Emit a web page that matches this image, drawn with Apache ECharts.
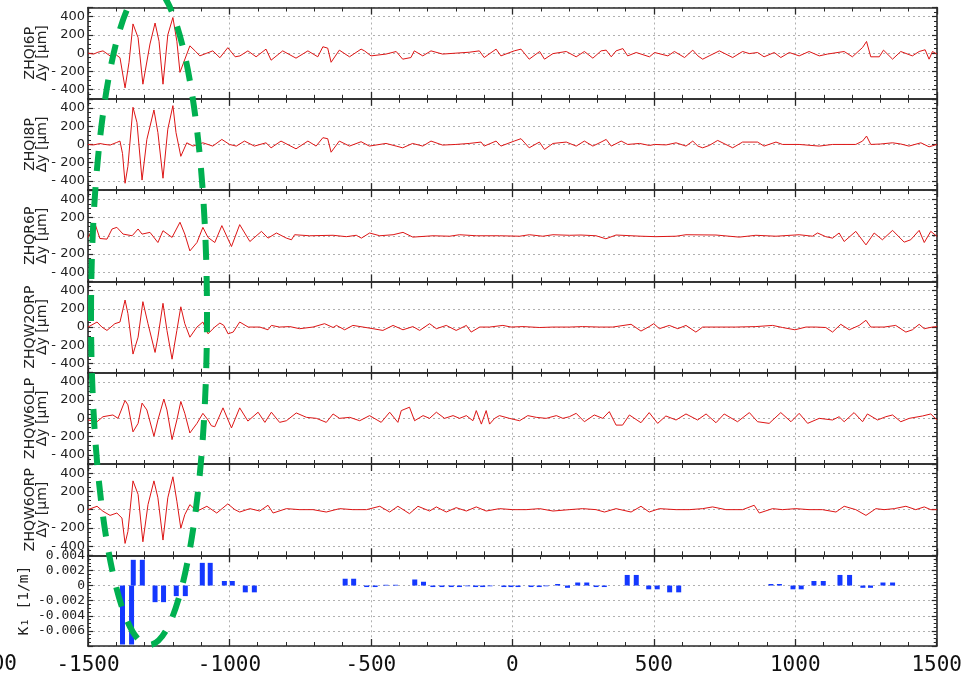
<!DOCTYPE html>
<html>
<head>
<meta charset="utf-8">
<script src="https://cdn.jsdelivr.net/npm/echarts@6/dist/echarts.min.js"></script>
<style>
html, body { margin: 0; padding: 0; background: #fff; }
#chart { width: 965px; height: 676px; }
</style>
</head>
<body>
<div id="chart"></div>
<script>
// Orbit deviation per BPM along s [m] and the focusing strength K1 per element.
const bpmNames = ['ZHQI6P', 'ZHQI8P', 'ZHQR6P', 'ZHQW2ORP', 'ZHQW6OLP', 'ZHQW6ORP'];
const sTicks = [-1500, -1000, -500, 0, 500, 1000, 1500];

// [s, Δy in μm]
const dyZHQI6P = [[-1500,0],[-1480,-10],[-1465,10],[-1447,25],[-1422,-30],[-1400,-20],[-1387,-50],[-1369,-380],[-1355,-100],[-1341,320],[-1323,170],[-1306,-340],[-1281,100],[-1263,330],[-1249,130],[-1235,-340],[-1218,200],[-1200,390],[-1186,130],[-1175,-210],[-1140,80],[-1120,20],[-1105,-30],[-1080,0],[-1059,25],[-1034,-50],[-1006,60],[-980,-40],[-963,-30],[-935,25],[-906,-40],[-871,44],[-853,-77],[-812,25],[-765,-55],[-723,25],[-688,-40],[-670,70],[-653,55],[-641,-100],[-612,33],[-576,-40],[-535,44],[-523,25],[-500,-30],[-447,-10],[-411,18],[-388,-66],[-359,-48],[-347,25],[-317,-30],[-288,25],[-247,-10],[-200,0],[-153,10],[-117,25],[-100,-48],[-58,44],[-41,-30],[6,25],[30,44],[59,-66],[96,18],[113,-66],[143,-5],[190,18],[225,-40],[254,18],[284,-55],[313,25],[331,33],[349,-40],[366,25],[390,50],[407,-30],[437,7],[484,-40],[502,7],[549,-30],[572,18],[608,-48],[637,33],[655,-30],[672,-66],[695,-30],[731,25],[778,-48],[813,18],[837,-5],[866,7],[889,-40],[925,7],[948,-48],[978,7],[1013,-30],[1048,18],[1084,-30],[1113,-10],[1172,18],[1201,-40],[1237,62],[1251,128],[1266,-40],[1296,-40],[1311,33],[1343,-66],[1372,18],[1413,-30],[1437,18],[1458,37],[1472,-66],[1484,18],[1500,-10]];
const dyZHQI8P = [[-1500,0],[-1480,-5],[-1458,10],[-1440,0],[-1422,-7],[-1400,20],[-1387,37],[-1378,-100],[-1369,-425],[-1359,-240],[-1341,407],[-1327,240],[-1309,-390],[-1292,55],[-1267,378],[-1253,130],[-1235,-370],[-1218,167],[-1200,425],[-1189,130],[-1172,-130],[-1151,18],[-1129,-18],[-1094,18],[-1059,-18],[-1027,55],[-1000,0],[-976,-18],[-947,37],[-912,-18],[-871,18],[-853,-37],[-818,37],[-765,-48],[-723,37],[-694,-18],[-670,74],[-653,63],[-641,-85],[-612,37],[-576,-18],[-535,30],[-506,-18],[-447,11],[-411,-18],[-388,-37],[-353,11],[-317,-18],[-288,37],[-247,-7],[-200,0],[-153,11],[-111,26],[-100,-18],[-58,37],[-41,-18],[6,37],[30,63],[59,-37],[95,26],[113,-55],[143,11],[190,26],[225,-18],[254,37],[284,-18],[313,26],[331,55],[349,-18],[384,37],[407,0],[449,11],[484,-11],[502,0],[543,-5],[578,18],[613,-18],[637,37],[655,-18],[672,-37],[695,-11],[725,44],[778,-37],[813,26],[866,26],[889,-18],[931,26],[954,0],[1013,0],[1084,-18],[1131,0],[1213,0],[1237,37],[1251,92],[1266,0],[1301,5],[1343,18],[1372,5],[1401,-18],[1443,18],[1472,-26],[1500,0]];
const dyZHQR6P = [[-1500,-18],[-1475,130],[-1458,-30],[-1433,-37],[-1415,74],[-1398,92],[-1376,18],[-1344,0],[-1323,74],[-1309,18],[-1281,37],[-1253,-74],[-1235,55],[-1203,-18],[-1175,148],[-1158,18],[-1140,-166],[-1115,-74],[-1094,92],[-1076,-18],[-1052,-74],[-1027,111],[-993,-118],[-964,122],[-928,-63],[-887,48],[-864,-26],[-834,30],[-799,-26],[-781,-44],[-770,11],[-717,0],[-634,5],[-587,-10],[-552,5],[-534,-26],[-505,30],[-469,0],[-422,11],[-387,37],[-352,-15],[-281,0],[-222,-5],[-187,11],[-128,0],[-46,0],[25,-5],[60,11],[107,-5],[143,11],[202,5],[242,8],[295,0],[330,-33],[366,8],[454,-5],[507,-10],[578,-5],[613,11],[719,8],[801,-15],[860,5],[931,-5],[1013,11],[1060,-5],[1078,30],[1107,-10],[1131,-26],[1154,30],[1172,-63],[1213,48],[1249,-100],[1278,30],[1307,-44],[1343,59],[1384,-70],[1407,-44],[1437,59],[1455,-74],[1478,48],[1500,-7]];
const dyZHQW2ORP = [[-1500,0],[-1468,55],[-1451,0],[-1433,-37],[-1405,37],[-1387,55],[-1369,296],[-1359,148],[-1341,-296],[-1323,-111],[-1306,278],[-1288,37],[-1263,-278],[-1253,-111],[-1235,260],[-1221,-37],[-1203,-352],[-1186,-37],[-1172,222],[-1158,37],[-1140,-111],[-1115,0],[-1094,55],[-1076,-74],[-1052,0],[-1034,44],[-1020,18],[-1005,-74],[-987,-55],[-964,55],[-934,0],[-893,0],[-864,-30],[-852,18],[-823,0],[-787,5],[-752,-18],[-705,0],[-664,37],[-634,-5],[-622,18],[-593,-30],[-564,18],[-528,0],[-493,-18],[-458,-37],[-422,18],[-387,-30],[-352,5],[-328,-37],[-293,37],[-269,-18],[-234,18],[-199,-37],[-163,18],[-146,-55],[-116,0],[-81,0],[-34,18],[-5,0],[37,5],[96,-5],[143,0],[202,0],[248,5],[307,0],[354,0],[419,30],[454,-44],[483,5],[499,37],[519,-18],[554,18],[584,-18],[613,18],[648,-55],[672,0],[719,0],[789,0],[860,5],[919,18],[954,-5],[998,-30],[1037,0],[1072,0],[1107,-5],[1131,-55],[1160,30],[1190,-30],[1225,18],[1249,74],[1266,0],[1313,0],[1354,18],[1390,-55],[1413,-30],[1437,30],[1455,-18],[1484,0],[1500,5]];
const dyZHQW6OLP = [[-1500,-18],[-1468,-37],[-1447,18],[-1412,37],[-1394,0],[-1369,196],[-1359,148],[-1341,-148],[-1323,-55],[-1309,167],[-1292,92],[-1267,-196],[-1253,-18],[-1232,211],[-1221,92],[-1203,-233],[-1186,-18],[-1172,185],[-1158,55],[-1140,-160],[-1115,-55],[-1094,55],[-1076,-18],[-1064,-81],[-1052,-92],[-1023,115],[-993,-105],[-964,115],[-935,-30],[-899,67],[-875,-44],[-852,67],[-823,-44],[-799,-26],[-764,59],[-728,11],[-693,0],[-658,-44],[-634,48],[-611,0],[-575,11],[-540,-26],[-505,30],[-464,-44],[-434,67],[-405,-44],[-393,85],[-364,122],[-346,-26],[-316,30],[-293,0],[-269,67],[-240,0],[-210,30],[-187,0],[-163,30],[-140,-26],[-128,85],[-110,-63],[-93,85],[-81,-63],[-63,0],[-46,30],[-11,0],[25,-26],[54,30],[84,11],[119,0],[155,30],[178,0],[201,18],[225,55],[254,-37],[289,37],[319,0],[342,74],[366,-74],[389,-74],[413,37],[454,-48],[483,63],[513,-55],[542,26],[578,-18],[613,48],[654,-18],[684,48],[719,-48],[748,48],[795,-37],[837,63],[866,-37],[907,-55],[948,63],[984,-37],[1013,55],[1043,-55],[1084,0],[1131,-18],[1154,18],[1172,-37],[1207,63],[1237,-37],[1254,48],[1290,-18],[1319,18],[1343,37],[1372,-37],[1402,0],[1449,26],[1478,48],[1500,-18]];
const dyZHQW6ORP = [[-1500,0],[-1468,37],[-1447,-18],[-1422,-63],[-1398,-37],[-1380,-92],[-1369,-370],[-1359,-240],[-1341,315],[-1323,167],[-1306,-352],[-1288,55],[-1267,315],[-1253,130],[-1235,-333],[-1218,130],[-1200,360],[-1186,92],[-1172,-204],[-1158,-55],[-1140,55],[-1115,-18],[-1080,37],[-1045,-37],[-1006,63],[-981,0],[-964,-26],[-928,11],[-893,-15],[-864,48],[-846,-37],[-799,11],[-752,0],[-705,0],[-658,-26],[-611,11],[-564,0],[-516,0],[-469,37],[-434,-26],[-405,37],[-364,-44],[-334,37],[-293,-15],[-269,30],[-234,-26],[-199,22],[-163,-15],[-128,30],[-93,-15],[-46,11],[1,0],[48,0],[96,11],[143,-15],[201,0],[248,11],[295,0],[325,-26],[366,11],[419,-26],[454,37],[483,-26],[519,11],[578,0],[625,0],[672,11],[707,30],[754,0],[813,0],[854,48],[872,-37],[919,11],[954,0],[1001,11],[1048,0],[1095,0],[1143,-26],[1172,37],[1213,0],[1249,-63],[1284,11],[1313,0],[1349,11],[1390,37],[1425,0],[1455,30],[1478,0],[1500,0]];

// [s, K1 in 1/m]
const k1Values = [[-1378,-0.0078],[-1346,-0.0078],[-1340,0.0034],[-1308,0.0034],[-1263,-0.0022],[-1233,-0.0022],[-1188,-0.0014],[-1156,-0.0014],[-1096,0.003],[-1068,0.003],[-1018,0.0006],[-990,0.0006],[-944,-0.0009],[-912,-0.0009],[-591,0.0009],[-561,0.0009],[-515,-0.0002],[-485,-0.0002],[-447,0.0001],[-413,0.0001],[-345,0.0008],[-314,0.0005],[-281,-0.0002],[-249,-0.0002],[-216,-0.0002],[-187,-0.0002],[-158,-0.0001],[-130,-0.0002],[-105,-0.0002],[-79,-0.0001],[-30,-0.0002],[-5,-0.0002],[20,-0.0002],[66,-0.0002],[95,-0.0002],[119,-0.0001],[160,0.0002],[195,-0.0003],[231,0.0004],[263,0.0004],[296,-0.0002],[325,-0.0002],[406,0.0014],[438,0.0014],[482,-0.0005],[512,-0.0005],[556,-0.0009],[588,-0.0009],[914,0.0002],[944,0.0002],[992,-0.0005],[1021,-0.0005],[1066,0.0006],[1099,0.0006],[1158,0.0014],[1192,0.0014],[1239,-0.0003],[1266,-0.0003],[1310,0.0004],[1344,0.0004]];

const dySeries = [dyZHQI6P, dyZHQI8P, dyZHQR6P, dyZHQW2ORP, dyZHQW6OLP, dyZHQW6ORP];

const PLOT_LEFT = 88, PLOT_RIGHT = 28, PLOT_TOP = 7.5, PANEL_H = 91.3;
const AXIS_COLOR = '#2a2a2a';
const GRID_LINE = { show: true, lineStyle: { color: '#b0b0b0', type: [2, 3], width: 1 } };
const nPanels = bpmNames.length + 1;

const grids = [], xAxes = [], yAxes = [], series = [];

for (let i = 0; i < nPanels; i++) {
  grids.push({ left: PLOT_LEFT, right: PLOT_RIGHT, top: PLOT_TOP + i * PANEL_H, height: PANEL_H });
  const isLast = i === nPanels - 1;
  const xBase = {
    gridIndex: i, type: 'value', min: sTicks[0], max: sTicks[sTicks.length - 1], interval: 500,
    axisLine: { show: true, onZero: false, lineStyle: { color: AXIS_COLOR, width: 1.6 } },
    axisTick: { show: true, inside: true, length: 7, lineStyle: { color: AXIS_COLOR, width: 1.3 } },
    minorTick: { show: true, splitNumber: 5, length: 4, lineStyle: { color: AXIS_COLOR, width: 1 } }
  };
  xAxes.push(Object.assign({}, xBase, {
    position: 'bottom',
    splitLine: GRID_LINE,
    axisLabel: {
      show: isLast, margin: 9, color: '#111',
      fontFamily: 'DejaVu Sans Mono', fontSize: 21,
      formatter: v => String(v)
    }
  }));
  xAxes.push(Object.assign({}, xBase, {
    position: 'top', splitLine: { show: false }, axisLabel: { show: false }
  }));

  const yBase = {
    gridIndex: i, type: 'value',
    axisLine: { show: true, onZero: false, lineStyle: { color: AXIS_COLOR, width: 1.6 } },
    axisTick: { show: true, inside: true, length: 5, lineStyle: { color: AXIS_COLOR, width: 1.2 } },
    minorTick: { show: true, splitNumber: 4, length: 3, lineStyle: { color: AXIS_COLOR, width: 1 } }
  };
  if (!isLast) {
    Object.assign(yBase, { min: -500, max: 500 });
    yAxes.push(Object.assign({}, yBase, {
      position: 'left',
      splitLine: GRID_LINE,
      axisLabel: {
        showMinLabel: false, showMaxLabel: false, margin: 3,
        color: '#222', fontFamily: 'DejaVu Sans', fontSize: 13,
        formatter: v => (v < 0 ? '- ' + Math.abs(v) : String(v))
      },
      name: bpmNames[i] + '\nΔy [μm]',
      nameLocation: 'middle', nameRotate: 90, nameGap: 39.5, nameMoveOverlap: false,
      nameTextStyle: { color: '#222', fontFamily: 'DejaVu Sans', fontSize: 14, lineHeight: 12 }
    }));
  } else {
    Object.assign(yBase, { min: -0.008, max: 0.004, interval: 0.002 });
    yAxes.push(Object.assign({}, yBase, {
      position: 'left',
      splitLine: GRID_LINE,
      axisLabel: {
        showMinLabel: false, margin: 3,
        color: '#222', fontFamily: 'DejaVu Sans Mono', fontSize: 13,
        formatter: v => (Math.abs(v) < 1e-9 ? '0' : v.toFixed(3))
      },
      name: 'K₁ [1/m]',
      nameLocation: 'middle', nameRotate: 90, nameGap: 56, nameMoveOverlap: false,
      nameTextStyle: { color: '#222', fontFamily: 'DejaVu Sans Mono', fontSize: 14.5 }
    }));
  }
  yAxes.push(Object.assign({}, yBase, {
    position: 'right', splitLine: { show: false }, axisLabel: { show: false }
  }));
}

dySeries.forEach((data, i) => {
  series.push({
    type: 'line', name: bpmNames[i], data: data,
    xAxisIndex: i * 2, yAxisIndex: i * 2,
    showSymbol: false, symbol: 'none', smooth: false,
    lineStyle: { color: '#dd1515', width: 1 },
    z: 5
  });
});

series.push({
  type: 'bar', name: 'K1', data: k1Values,
  xAxisIndex: (nPanels - 1) * 2, yAxisIndex: (nPanels - 1) * 2,
  barWidth: 5, itemStyle: { color: '#1438ff' }, z: 5
});

const chart = echarts.init(document.getElementById('chart'), null, { renderer: 'canvas' });
chart.setOption({
  animation: false,
  backgroundColor: '#fff',
  grid: grids,
  xAxis: xAxes,
  yAxis: yAxes,
  series: series,
  graphic: [
    {
      type: 'ellipse', z: 100,
      shape: { cx: 149, cy: 315, rx: 58, ry: 330 },
      style: { fill: 'none', stroke: '#00b050', lineWidth: 6, lineDash: [20, 16] }
    },
    {
      type: 'text', z: 100,
      style: { text: '00', x: 17, y: 665, align: 'right', verticalAlign: 'middle',
               font: '21px "DejaVu Sans Mono"', fill: '#111' }
    }
  ]
});
</script>
</body>
</html>
